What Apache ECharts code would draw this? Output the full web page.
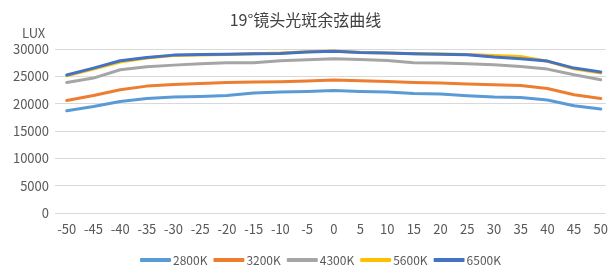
<!DOCTYPE html>
<html lang="zh">
<head>
  <meta charset="UTF-8">
  <title>19°镜头光斑余弦曲线</title>
  <style>
    html, body { margin: 0; padding: 0; background: #fff; }
    #chart { width: 611px; height: 267px; }
  </style>
</head>
<body>
  <div id="chart"></div>
  <script src="https://cdn.jsdelivr.net/npm/echarts@6/dist/echarts.min.js"></script>
  <script>
    var angles = [-50, -45, -40, -35, -30, -25, -20, -15, -10, -5, 0, 5, 10, 15, 20, 25, 30, 35, 40, 45, 50]
    var names = ['2800K', '3200K', '4300K', '5600K', '6500K']
    var colors = ['#5B9BD5', '#ED7D31', '#A5A5A5', '#FFC000', '#4472C4']

    var lux2800 = [18700, 19490, 20400, 20950, 21200, 21310, 21500, 21940, 22120, 22230, 22410, 22230, 22120, 21860, 21750, 21440, 21200, 21130, 20660, 19610, 19010]
    var lux3200 = [20590, 21500, 22540, 23210, 23510, 23690, 23870, 23950, 24000, 24130, 24310, 24180, 24060, 23870, 23760, 23580, 23450, 23320, 22780, 21630, 20950]
    var lux4300 = [23870, 24680, 26200, 26740, 27050, 27290, 27470, 27470, 27840, 28020, 28200, 28080, 27900, 27470, 27420, 27290, 27110, 26800, 26320, 25280, 24370]
    var lux5600 = [25100, 26350, 27600, 28350, 28800, 28900, 29000, 29150, 29250, 29480, 29620, 29380, 29270, 29150, 29080, 28990, 28810, 28630, 27750, 26400, 25590]
    var lux6500 = [25230, 26500, 27840, 28450, 28880, 28990, 29060, 29120, 29180, 29430, 29610, 29360, 29250, 29120, 29060, 28940, 28520, 28210, 27790, 26510, 25780]

    var yTicks = [0, 5000, 10000, 15000, 20000, 25000, 30000]

    var allData = [lux2800, lux3200, lux4300, lux5600, lux6500]
    var font = '"Noto Sans CJK SC", "Noto Sans", sans-serif'

    var series = names.map(function (name, i) {
      return {
        name: name,
        type: 'line',
        symbol: 'none',
        z: 2 + (i === 4 ? 2 : i === 3 ? 1 : 0),
        lineStyle: { color: colors[i], width: 3, cap: 'round', join: 'round' },
        itemStyle: { color: colors[i] },
        data: angles.map(function (a, j) { return [a, allData[i][j]] })
      }
    })

    var myChart = echarts.init(document.getElementById('chart'))
    myChart.setOption({
      animation: false,
      color: colors,
      textStyle: { fontFamily: font },
      title: [
        {
          text: '19°镜头光斑余弦曲线',
          left: 'center',
          top: 7,
          textStyle: { fontSize: 16, fontWeight: 'normal', color: '#404040', fontFamily: font }
        },
        {
          text: 'LUX',
          left: 22,
          top: 27,
          padding: 0,
          textStyle: { fontSize: 13, fontWeight: 'normal', color: '#595959', fontFamily: font }
        }
      ],
      legend: {
        data: names,
        bottom: -4,
        left: 135,
        icon: 'roundRect',
        itemWidth: 31,
        itemHeight: 4,
        itemGap: 6,
        textStyle: { fontSize: 12, color: '#595959', fontFamily: font, padding: [0, 0, 0, -3] }
      },
      grid: {
        left: 55,
        right: 0,
        top: 49,
        bottom: 54,
        containLabel: false
      },
      xAxis: {
        type: 'value',
        min: -52.2,
        max: 50.93,
        axisLine: { show: false },
        axisTick: { show: false },
        splitLine: { show: false },
        axisLabel: {
          customValues: angles,
          margin: 10,
          fontSize: 13,
          color: '#595959',
          fontFamily: font
        }
      },
      yAxis: {
        type: 'value',
        min: 0,
        max: 30000,
        interval: 5000,
        axisLine: { show: false },
        axisTick: { show: false },
        axisLabel: {
          customValues: yTicks,
          formatter: function (v) { return String(v) },
          margin: 6,
          fontSize: 13,
          color: '#595959',
          fontFamily: font
        },
        splitLine: { lineStyle: { color: '#D9D9D9', width: 1 } }
      },
      series: series
    })
  </script>
</body>
</html>
